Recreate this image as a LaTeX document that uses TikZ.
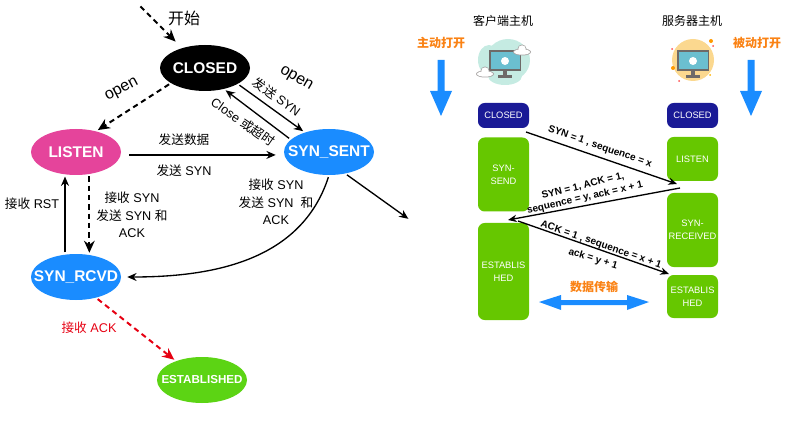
\documentclass[tikz,border=0pt]{standalone}
\usepackage{fontspec}
\setmainfont{Liberation Sans}
\newfontfamily\cjk{Noto Sans CJK SC}
\usetikzlibrary{arrows.meta, shapes.geometric}
\definecolor{listen_pink}{HTML}{E5449B}
\definecolor{syn_blue}{HTML}{1A8CFF}
\definecolor{est_green}{HTML}{5CD414}
\definecolor{box_green}{HTML}{66C700}
\definecolor{box_navy}{HTML}{1A1A96}
\definecolor{open_orange}{HTML}{FA8214}
\definecolor{ack_red}{HTML}{E60012}
\definecolor{screen_teal}{HTML}{6BBFD0}
\definecolor{frame_grey}{HTML}{6E6A68}
\definecolor{cloud_teal}{HTML}{C5EBE2}
\definecolor{sun_yellow}{HTML}{FBD88F}
\tikzset{>=Stealth,
  state/.style={ellipse, minimum width=90*0.75pt, minimum height=46*0.75pt,
    inner xsep=-12pt, inner ysep=0pt,
    text=white, font=\bfseries\fontsize{11.6}{14}\selectfont},
  host box/.style={rounded corners=5pt, minimum width=51*0.75pt, inner sep=0pt, text=white,
    align=center, font=\fontsize{7}{9.5}\selectfont},
  state label/.style={align=center, font=\fontsize{9.5}{13}\selectfont},
  host label/.style={font=\bfseries\fontsize{7.5}{8}\selectfont, inner sep=0pt},
  open label/.style={font=\bfseries\fontsize{9}{11}\selectfont\cjk, text=open_orange, inner sep=0pt},
  thin link/.style={->, line width=1pt, shorten <=1.5pt, shorten >=1.5pt, >={Stealth[length=7pt,width=6pt]}},
  dash link/.style={->, line width=1.5pt, dash pattern=on 4pt off 3pt, shorten <=1.5pt, shorten >=1.5pt,
    >={Stealth[length=9pt,width=8pt]}},
  seq link/.style={->, line width=1pt, >={Stealth[length=6.5pt,width=5.5pt]}}
}

\begin{document}
\begin{tikzpicture}[x=0.75pt, y=-0.75pt]
\useasboundingbox (0,0) rectangle (787,427);

% Draw the state nodes
\node[state, fill=black] (closed) at (205,68) {CLOSED};
\node[state, fill=listen_pink] (listen) at (76,152) {LISTEN};
\node[state, fill=syn_blue] (syn_sent) at (329,152) {SYN\_SENT};
\node[state, fill=syn_blue] (syn_rcvd) at (76,277) {SYN\_RCVD};
\node[state, fill=est_green, font=\bfseries\fontsize{8.7}{11}\selectfont] (established) at (202,380) {ESTABLISHED};

% Free ends of the two outer arrows
\coordinate (start) at (139,5);
\coordinate (closed_in) at (177,43);
\coordinate (sent_out) at (410,220);

% Draw the state arrows
\draw[dash link] (start) -- (closed_in);
\draw[dash link] (closed.204) -- (listen.46);
\draw[thin link] (closed.-26) -- (syn_sent.141);
\draw[thin link] (syn_sent.162) -- (closed.-48);
\draw[thin link] ([xshift=4.5pt,yshift=-2.2pt]listen.east) -- ([xshift=-4.5pt,yshift=-2.2pt]syn_sent.west);
\draw[thin link] (syn_rcvd.116) -- (listen.-116);
\draw[dash link] (listen.-59) -- (syn_rcvd.59);
\draw[thin link] (syn_sent.-90) to[out=-108, in=0] ([xshift=3pt]syn_rcvd.east);
\draw[thin link] (syn_sent.-53) -- (sent_out);
\draw[dash link, ack_red] (syn_rcvd.-46) -- (established.144);

% Draw the state labels
\node (start_text) at (184,18) {\fontsize{12}{14}\selectfont\cjk 开始};
\node[rotate=28] (open_left) at (122,90) {\fontsize{12}{14}\selectfont open};
\node[rotate=-30] (open_right) at (296,79) {\fontsize{12}{14}\selectfont open};
\node[state label, rotate=-36] (send_syn_a) at (277,97) {{\cjk 发送} SYN};
\node[state label, rotate=-35] (close_text) at (243,122) {Close {\cjk 或超时}};
\node[state label] (send_data) at (184,140) {\cjk 发送数据};
\node[state label] (send_syn_b) at (184,171) {{\cjk 发送} SYN};
\node[state label] (recv_rst) at (32,204) {{\cjk 接收} RST};
\node[state label] (recv_syn_a) at (132,215) {{\cjk 接收} SYN\\{\cjk 发送} SYN {\cjk 和}\\ACK};
\node[state label] (recv_syn_b) at (276,202) {{\cjk 接收} SYN\\{\cjk 发送} SYN\ \ {\cjk 和}\\ACK};
\node[state label, text=ack_red] (recv_ack) at (89,328) {{\cjk 接收} ACK};

% Draw the host titles
\node[font=\fontsize{9}{11}\selectfont\cjk] (client_title) at (503,21) {客户端主机};
\node[font=\fontsize{9}{11}\selectfont\cjk] (server_title) at (692,21) {服务器主机};
\node[open label] (active_text) at (441,43) {主动打开};
\node[open label] (passive_text) at (757,43) {被动打开};

% Draw the blue block arrows
\foreach \x in {441,751}{
  \fill[syn_blue] (\x-3.5,60) -- (\x+3.5,60) -- (\x+3.5,91) -- (\x+11,91) -- (\x,116)
    -- (\x-11,91) -- (\x-3.5,91) -- cycle;
}
\fill[syn_blue] (539,302) -- (561,295) -- (561,300) -- (627,300) -- (627,295) -- (649,302)
  -- (627,310) -- (627,305) -- (561,305) -- (561,310) -- cycle;
\node[font=\bfseries\fontsize{9}{11}\selectfont\cjk, text=open_orange] (data_text) at (594,287) {数据传输};

% Draw the host backgrounds
\fill[cloud_teal] (508,60) ellipse (22 and 21);
\fill[cloud_teal] (489,60) ellipse (11 and 15);
\fill[cloud_teal] (505,76) ellipse (17 and 9);
\fill[sun_yellow] (693,60) circle (21);
\fill[orange!80!yellow] (711,41) circle (2);
\fill[orange!80!yellow] (673,68) circle (2);
\fill[red!70!white] (672,49) circle (1);
\fill[red!70!white] (679,81) circle (1);
\fill[red!70!white] (713,46) circle (1);
\fill[orange!60!yellow] (710,75) circle (1);

% Draw the two monitors
\foreach \x in {505,693}{
  \fill[frame_grey] (\x-16,50) rectangle (\x+16,71);
  \fill[screen_teal] (\x-14.5,52) rectangle (\x+14.5,69);
  \fill[frame_grey] (\x-2,71) rectangle (\x+2,75);
  \fill[frame_grey] (\x-7,75) rectangle (\x+7,78);
  \fill[white] (\x,61) circle (4);
}

% Draw the little clouds
\foreach \x/\y in {485/73,522/51}{
  \fill[frame_grey!60] (\x,\y+1) ellipse (9 and 3.5);
  \fill[frame_grey!60] (\x,\y-2) circle (4.5);
  \fill[white] (\x,\y+1) ellipse (8 and 2.7);
  \fill[white] (\x,\y-2) circle (3.7);
}

% Draw the host boxes
\node[host box, fill=box_navy, minimum height=25*0.75pt] (c_closed) at (503.5,115.5) {CLOSED};
\node[host box, fill=box_green, minimum height=74*0.75pt] (c_send) at (503.5,174.5) {SYN-\\SEND};
\node[host box, fill=box_green, minimum height=97*0.75pt] (c_est) at (503.5,271.5) {ESTABLIS\\HED};
\node[host box, fill=box_navy, minimum height=25*0.75pt] (s_closed) at (692.5,115.5) {CLOSED};
\node[host box, fill=box_green, minimum height=44*0.75pt] (s_listen) at (692.5,159) {LISTEN};
\node[host box, fill=box_green, minimum height=74*0.75pt] (s_rcvd) at (692.5,230) {SYN-\\RECEIVED};
\node[host box, fill=box_green, minimum height=43*0.75pt] (s_est) at (692.5,296.5) {ESTABLIS\\HED};

% Free ends of the handshake arrows
\coordinate (syn_from) at (526,132);
\coordinate (syn_to) at (677,184);
\coordinate (ack_from) at (680,188);
\coordinate (ack_to) at (508,220);
\coordinate (est_from) at (518,221);
\coordinate (est_to) at (669,274);

% Draw the handshake arrows
\draw[seq link] (syn_from) -- (syn_to);
\draw[seq link] (ack_from) -- (ack_to);
\draw[seq link] (est_from) -- (est_to);

% Draw the handshake labels
\node[host label, rotate=-19] (seq_a) at (600,147) {SYN = 1 , sequence = x};
\node[host label, rotate=14] (seq_b) at (583,186) {SYN = 1, ACK = 1,};
\node[host label, rotate=13] (seq_c) at (585,198) {sequence = y, ack = x + 1};
\node[host label, rotate=-19] (seq_d) at (601,245) {ACK = 1 , sequence = x + 1};
\node[host label, rotate=-17] (seq_e) at (593,259) {ack = y + 1};

\end{tikzpicture}
\end{document}
